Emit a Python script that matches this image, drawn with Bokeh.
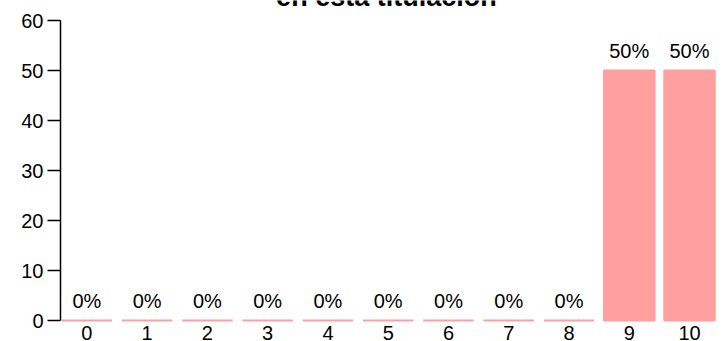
from bokeh.plotting import figure
from bokeh.models import Range1d, FixedTicker, ColumnDataSource
from bokeh.core.properties import value
from bokeh.embed import file_html
from bokeh.resources import INLINE

categories = ["0", "1", "2", "3", "4", "5", "6", "7", "8", "9", "10"]
percentages = [0, 0, 0, 0, 0, 0, 0, 0, 0, 50, 50]
bar_labels = ["0%", "0%", "0%", "0%", "0%", "0%", "0%", "0%", "0%", "50%", "50%"]
y_ticks = [0, 10, 20, 30, 40, 50, 60]
title_text = "en esta titulación"

FONT = "Liberation Sans"
BAR = "#FF9F9F"

xs = list(range(len(categories)))
src = ColumnDataSource(dict(x=xs, top=percentages, lab=bar_labels, cat=categories,
                            ylab=[-4.0] * len(xs)))

p = figure(width=723, height=341, output_backend="svg", toolbar_location=None,
           x_range=Range1d(-0.438, 10.564), y_range=Range1d(-4.2, 64.0),
           x_axis_location=None, min_border_left=60, min_border_right=0,
           min_border_top=0, min_border_bottom=0)
p.outline_line_color = None
p.grid.visible = False
p.background_fill_color = "white"
p.border_fill_color = "white"

p.vbar(x="x", top="top", bottom=0, width=0.838, source=src,
       fill_color=BAR, line_color=BAR, line_width=2)

p.text(x="x", y="top", text="lab", source=src, text_font=value(FONT),
       text_font_size="20px", text_align="center", text_baseline="alphabetic",
       y_offset=-20, text_color="black")

p.text(x="x", y="ylab", text="cat", source=src, text_font=value(FONT),
       text_font_size="20px", text_align="center", text_baseline="alphabetic",
       y_offset=-8, text_color="black")

p.text(x=[4.97], y=[62.6], text=[title_text], text_font=value(FONT),
       text_font_size="27px", text_font_style="bold", text_align="center",
       text_baseline="alphabetic", y_offset=-11, text_color="black")

ya = p.yaxis[0]
ya.ticker = FixedTicker(ticks=y_ticks)
ya.bounds = (0, 60)
ya.axis_line_width = 1.5
ya.axis_line_color = "black"
ya.major_tick_line_width = 1.5
ya.major_tick_line_color = "black"
ya.major_tick_out = 13
ya.major_tick_in = 0
ya.minor_tick_line_color = None
ya.major_label_standoff = 4
ya.major_label_text_font = FONT
ya.major_label_text_font_size = "20px"
ya.major_label_text_color = "black"

open("out.html", "w").write(file_html(p, INLINE))
